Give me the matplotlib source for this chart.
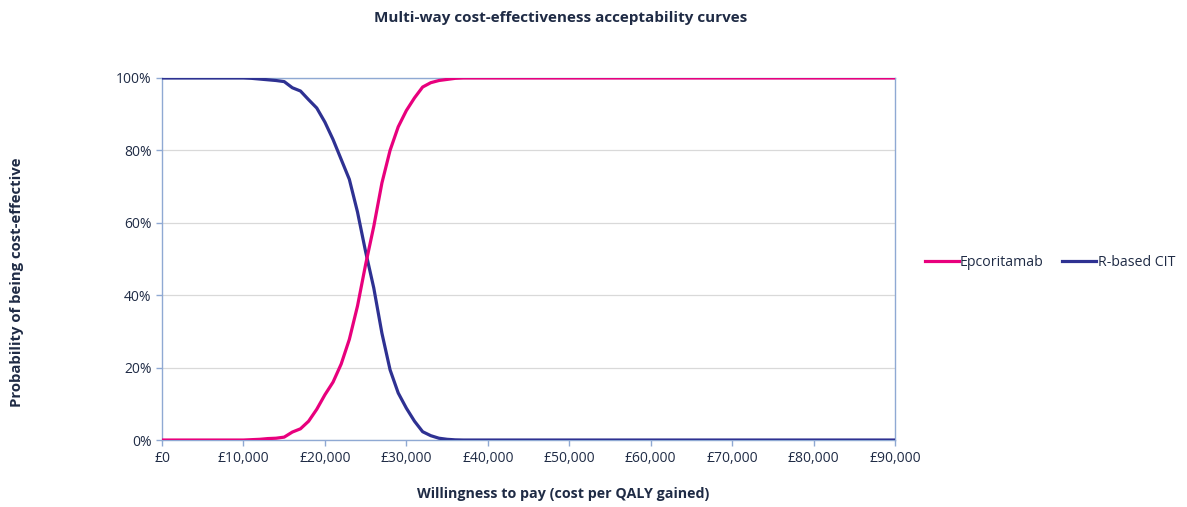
import numpy as np
from matplotlib import pyplot as plt
from matplotlib.ticker import FuncFormatter

plt.rcParams['font.family'] = ['Open Sans', 'DejaVu Sans']

# Willingness to pay (GBP per QALY) and probability of being cost-effective (%)
wtp = [0, 10000, 11000, 12000, 13000, 14000, 15000, 16000, 17000, 18000, 19000,
       20000, 21000, 22000, 23000, 24000, 25000, 26000, 27000, 28000, 29000,
       30000, 31000, 32000, 33000, 34000, 35000, 36000, 37000, 90000]

epcoritamab = [0, 0, 0.1, 0.2, 0.4, 0.5, 0.8, 2.2, 3.1, 5.2, 8.5,
               12.5, 16.0, 21.0, 27.8, 37.0, 48.5, 59.0, 71.0, 80.0, 86.5,
               91.0, 94.5, 97.5, 98.7, 99.3, 99.6, 99.9, 100, 100]

r_based_cit = [100, 100, 99.9, 99.7, 99.5, 99.3, 99.0, 97.3, 96.4, 94.0, 91.7,
               87.8, 83.0, 77.5, 72.0, 63.0, 52.0, 42.0, 29.5, 19.4, 13.0,
               8.8, 5.2, 2.3, 1.2, 0.5, 0.2, 0.05, 0, 0]

series_labels = ['Epcoritamab', 'R-based CIT']
series_colors = ['#E8007D', '#2E3192']

text_color = '#1F2B45'
frame_color = '#8FA9D3'

fig = plt.figure(figsize=(11.87, 5.07), dpi=100)
ax = fig.add_axes([0.1365, 0.1321, 0.6175, 0.7141])

ax.plot(wtp, r_based_cit, color=series_colors[1], lw=2.3, label=series_labels[1], zorder=3)
ax.plot(wtp, epcoritamab, color=series_colors[0], lw=2.3, label=series_labels[0], zorder=4)

ax.set_xlim(0, 90000)
ax.set_ylim(0, 100)
ax.set_xticks(np.arange(0, 90001, 10000))
ax.set_yticks(np.arange(0, 101, 20))
ax.xaxis.set_major_formatter(FuncFormatter(lambda v, p: f'£{int(v):,}'))
ax.yaxis.set_major_formatter(FuncFormatter(lambda v, p: f'{int(v)}%'))

ax.grid(axis='y', color='#D9D9D9', lw=0.9)
ax.set_axisbelow(True)
for s in ax.spines.values():
    s.set_color(frame_color)
    s.set_linewidth(1.0)
ax.tick_params(colors=frame_color, labelcolor=text_color, labelsize=10, length=4, width=1)
ax.tick_params(axis='x', pad=4)

fig.text(0.4724, 0.9645, 'Multi-way cost-effectiveness acceptability curves',
         ha='center', va='center', fontsize=11, fontweight='bold', color=text_color)
fig.text(0.4745, 0.0256, 'Willingness to pay (cost per QALY gained)',
         ha='center', va='center', fontsize=10.3, fontweight='bold', color=text_color)
fig.text(0.0143, 0.4438, 'Probability of being cost-effective', rotation=90,
         ha='center', va='center', fontsize=10.7, fontweight='bold', color=text_color)

handles, labels = ax.get_legend_handles_labels()
leg = fig.legend(handles[::-1], labels[::-1], loc='center left', bbox_to_anchor=(0.779, 0.483),
                 ncol=2, frameon=False, fontsize=10.2, handlelength=2.4,
                 handletextpad=0.1, columnspacing=1.3, borderpad=0, borderaxespad=0)
for t in leg.get_texts():
    t.set_color(text_color)

fig.savefig('out.png', dpi=100)
